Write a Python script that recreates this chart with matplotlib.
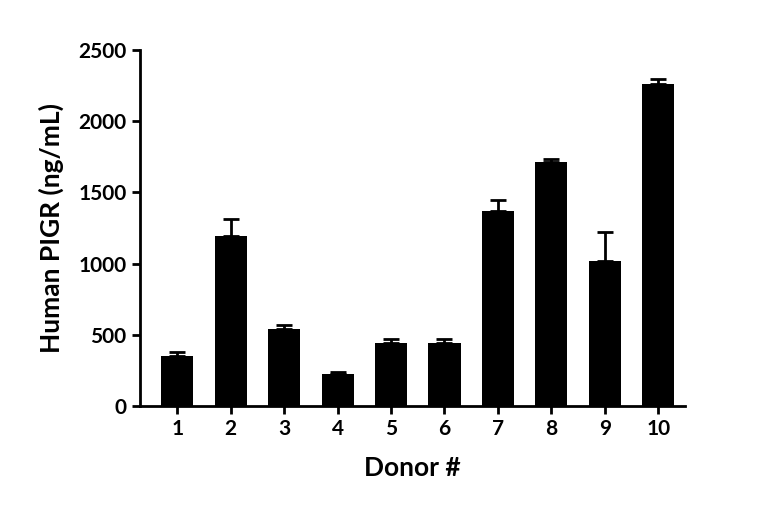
import matplotlib.pyplot as plt

donors = [1, 2, 3, 4, 5, 6, 7, 8, 9, 10]
means = [350, 1195, 540, 225, 445, 445, 1370, 1715, 1020, 2265]
errors = [30, 120, 25, 15, 25, 25, 80, 20, 200, 35]

plt.rcParams['font.family'] = ['Lato', 'DejaVu Sans']
plt.rcParams['font.weight'] = 'bold'

fig = plt.figure(figsize=(7.68, 5.23), dpi=100)
ax = fig.add_axes([0.182, 0.224, 0.71, 0.68])

ax.bar(donors, means, width=0.6, color='black')
ax.errorbar(donors, means, yerr=[[0] * len(errors), errors], fmt='none',
            ecolor='black', elinewidth=2, capsize=6, capthick=2)

ax.set_xlim(0.3, 10.5)
ax.set_ylim(0, 2500)
ax.set_xticks(donors)
ax.set_yticks([0, 500, 1000, 1500, 2000, 2500])
ax.tick_params(width=2, length=6, labelsize=15)
for s in ['top', 'right']:
    ax.spines[s].set_visible(False)
for s in ['left', 'bottom']:
    ax.spines[s].set_linewidth(2)

ax.set_xlabel('Donor #', fontsize=19, fontweight='bold', labelpad=12)
ax.set_ylabel('Human PIGR (ng/mL)', fontsize=19, fontweight='bold', labelpad=10)

fig.savefig('out.png', dpi=100)
